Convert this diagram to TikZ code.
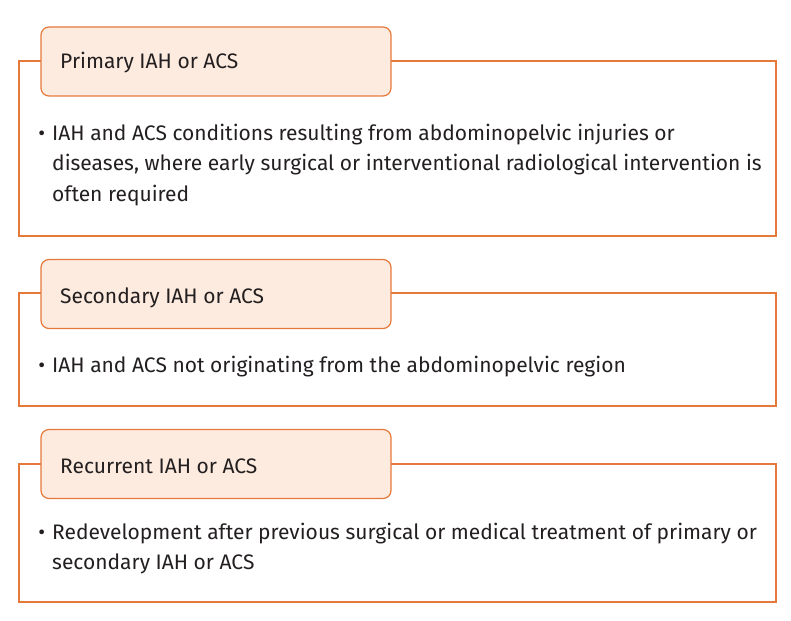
\documentclass[tikz,border=0pt]{standalone}
\usepackage{fontspec}
\setmainfont{Fira Sans}
\definecolor{boxorange}{RGB}{229,121,58}
\definecolor{headfill}{RGB}{253,235,223}
\definecolor{inktext}{RGB}{35,31,32}
\tikzset{
  frame/.style = {draw = boxorange, line width = 1.6pt},
  header/.style = {draw = boxorange, fill = headfill, line width = 1.2pt,
    rounded corners = 8pt, minimum width = 350pt, minimum height = 69pt, inner sep = 0pt},
  title/.style = {anchor = base west, inner sep = 0pt, text = inktext,
    font = \fontsize{21}{24}\selectfont},
  body/.style = {anchor = base west, inner sep = 0pt, text = inktext, align = left,
    font = \fontsize{21}{30}\selectfont}
}
\newcommand{\bul}{\llap{\textbullet\hspace{7pt}}}
\begin{document}
\begin{tikzpicture}[x = 1pt, y = -1pt]
  \useasboundingbox (0, 0) rectangle (791, 620);
  \draw [frame] (19, 61) rectangle (776, 236);
  \node [header] (head1) at (216, 61.5) {};
  \node [title] (title1) at (60, 69) {Primary IAH or ACS};
  \node [body] (text1) at (52, 201) {\bul IAH and ACS conditions resulting from abdominopelvic injuries or\\
    diseases, where early surgical or interventional radiological intervention is\\
    often required};
  \draw [frame] (19, 293) rectangle (776, 406);
  \node [header] (head2) at (216, 294) {};
  \node [title] (title2) at (60, 303) {Secondary IAH or ACS};
  \node [body] (text2) at (52, 372) {\bul IAH and ACS not originating from the abdominopelvic region};
  \draw [frame] (19, 464) rectangle (776, 602);
  \node [header] (head3) at (216, 464) {};
  \node [title] (title3) at (60, 473) {Recurrent IAH or ACS};
  \node [body] (text3) at (52, 569) {\bul Redevelopment after previous surgical or medical treatment of primary or\\
    secondary IAH or ACS};
\end{tikzpicture}
\end{document}
